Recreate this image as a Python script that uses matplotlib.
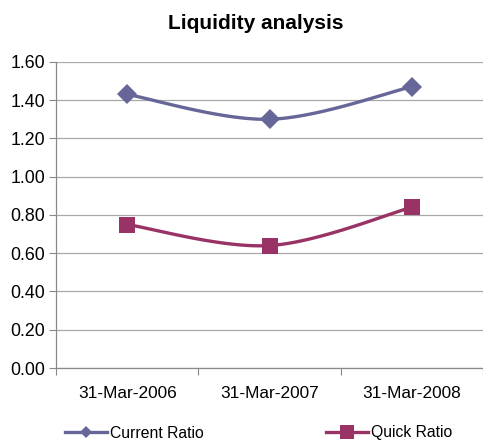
import numpy as np
import matplotlib
matplotlib.use("Agg")
import matplotlib.pyplot as plt
from matplotlib.lines import Line2D

categories = ["31-Mar-2006", "31-Mar-2007", "31-Mar-2008"]
current_ratio = [1.43, 1.30, 1.47]
quick_ratio = [0.75, 0.64, 0.84]
y_ticks = [0.0, 0.2, 0.4, 0.6, 0.8, 1.0, 1.2, 1.4, 1.6]

plt.rcParams['font.family'] = ['Liberation Sans', 'DejaVu Sans']

def smooth(xs, ys, n=40):
    # Catmull-Rom style cubic Bezier through the points (Excel smoothed line)
    xs = np.asarray(xs, float); ys = np.asarray(ys, float)
    px, py = [], []
    m = len(xs)
    for i in range(m - 1):
        p0 = np.array([xs[max(i - 1, 0)], ys[max(i - 1, 0)]])
        p1 = np.array([xs[i], ys[i]])
        p2 = np.array([xs[i + 1], ys[i + 1]])
        p3 = np.array([xs[min(i + 2, m - 1)], ys[min(i + 2, m - 1)]])
        c1 = p1 + (p2 - p0) / 6.0
        c2 = p2 - (p3 - p1) / 6.0
        t = np.linspace(0, 1, n)[:, None]
        pts = ((1 - t) ** 3) * p1 + 3 * ((1 - t) ** 2) * t * c1 + 3 * (1 - t) * t ** 2 * c2 + t ** 3 * p2
        px.extend(pts[:, 0]); py.extend(pts[:, 1])
    return np.array(px), np.array(py)

c_cur = "#666699"
c_quick = "#993366"

fig = plt.figure(figsize=(4.83, 4.45), dpi=100)
ax = fig.add_axes([0.116, 0.173, 0.884, 0.688])

x = np.arange(len(categories))
for vals, col, mk, ms in [(current_ratio, c_cur, "D", 10.0), (quick_ratio, c_quick, "s", 12.0)]:
    sx, sy = smooth(x, vals)
    ax.plot(sx, sy, color=col, lw=2.4, solid_capstyle="round", zorder=3)
    ax.plot(x, vals, linestyle="none", marker=mk, ms=ms, color=col, mec=col, mew=0, zorder=4)

ax.set_xlim(-0.5, 2.5)
ax.set_ylim(0, 1.6)
ax.set_yticks(y_ticks)
ax.set_yticklabels([f"{v:.2f}" for v in y_ticks], fontsize=12.8)
ax.yaxis.grid(True, color="#a8a8a8", lw=0.9)
ax.set_axisbelow(True)

ax.set_xticks([-0.5, 0.5, 1.5, 2.5])
ax.set_xticklabels([])
ax.set_xticks(x, minor=True)
ax.set_xticklabels(categories, minor=True, fontsize=12.4)
ax.tick_params(axis="x", which="minor", length=0, pad=13)
ax.tick_params(axis="x", which="major", length=5, color="#888888", direction="out")
ax.tick_params(axis="y", length=5, color="#888888", direction="out", pad=3)

for s in ["top", "right"]:
    ax.spines[s].set_visible(False)
for s in ["left", "bottom"]:
    ax.spines[s].set_color("#888888")
    ax.spines[s].set_linewidth(0.9)

fig.text(0.53, 0.948, "Liquidity analysis", ha="center", va="center", fontsize=15, fontweight="bold")

handles = [Line2D([], [], color=c_cur, lw=2.4, marker="D", ms=6.5, mew=0),
           Line2D([], [], color=c_quick, lw=2.4, marker="s", ms=9.5, mew=0)]
fig.legend(handles, ["Current Ratio", "Quick Ratio"], ncol=2, frameon=False,
           loc="center left", bbox_to_anchor=(0.118, 1 - 433 / 445),
           borderpad=0, handlelength=2.7, handletextpad=0.2, columnspacing=7.75,
           fontsize=11.3)

fig.savefig("out.png", dpi=100)
